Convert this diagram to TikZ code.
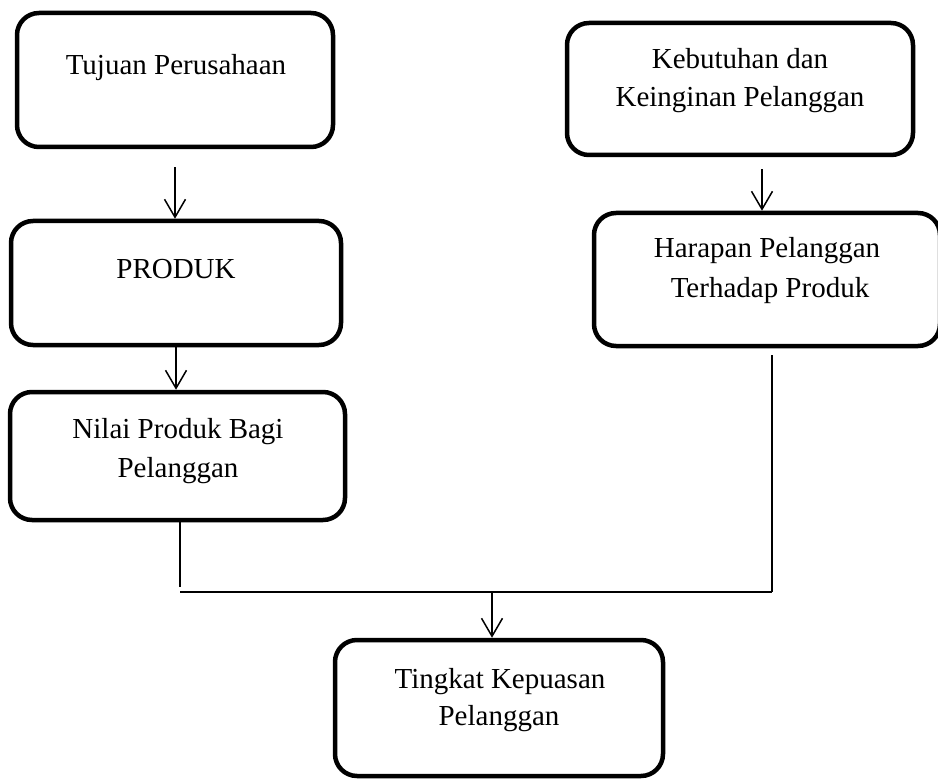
\documentclass[tikz,border=0pt]{standalone}
\usepackage{fontspec}
\setmainfont{Liberation Serif}
\usetikzlibrary{arrows.meta}
\begin{document}
\begin{tikzpicture}[x=1pt,y=-1pt,
  box/.style={draw, line width=4.5pt, rounded corners=22pt, inner sep=0pt},
  txt/.style={font=\fontsize{29}{39}\selectfont, anchor=base, inner sep=0pt},
  conn/.style={line width=1.5pt},
  arr/.style={conn, -{Straight Barb[length=18pt,width=21pt,line width=1.5pt]}}]
\useasboundingbox (0,0) rectangle (938,781);
% boxes
\node[box, minimum width=316pt, minimum height=134pt] (b1) at (175,80) {};
\node[box, minimum width=330pt, minimum height=124pt] (b2) at (176,283) {};
\node[box, minimum width=335pt, minimum height=128pt] (b3) at (177.5,456) {};
\node[box, minimum width=346pt, minimum height=132pt] (b4) at (740,89) {};
\node[box, minimum width=346pt, minimum height=133pt] (b5) at (767,279.5) {};
\node[box, minimum width=328pt, minimum height=136pt] (b6) at (499,708) {};
% texts
\node[txt] (t1) at (176,75) {Tujuan Perusahaan};
\node[txt] (t2) at (176,278) {PRODUK};
\node[txt] (t3a) at (178,438) {Nilai Produk Bagi};
\node[txt] (t3b) at (178,477) {Pelanggan};
\node[txt] (t4a) at (740,69) {Kebutuhan dan};
\node[txt] (t4b) at (740,107) {Keinginan Pelanggan};
\node[txt] (t5a) at (767,258) {Harapan Pelanggan};
\node[txt] (t5b) at (770,297) {Terhadap Produk};
\node[txt] (t6a) at (500,688) {Tingkat Kepuasan};
\node[txt] (t6b) at (499,725) {Pelanggan};
% connectors
\draw[arr, shorten <=18pt] (b1.south) -- (b1.south |- b2.north);
\draw[arr] (b2.south) -- (b2.south |- b3.north);
\draw[arr, shorten <=12pt] (b4.south -| 762,0) -- (b5.north -| 762,0);
\coordinate (hl) at (180,592);
\coordinate (hr) at (772,592);
\coordinate (hm) at (492,592);
\draw[conn, shorten >=5pt] (hl |- b3.south) -- (hl);
\draw[conn] (hl) -- (hr);
\draw[conn, shorten <=7pt] (hr |- b5.south) -- (hr);
\draw[arr] (hm) -- (hm |- b6.north);
\end{tikzpicture}
\end{document}
